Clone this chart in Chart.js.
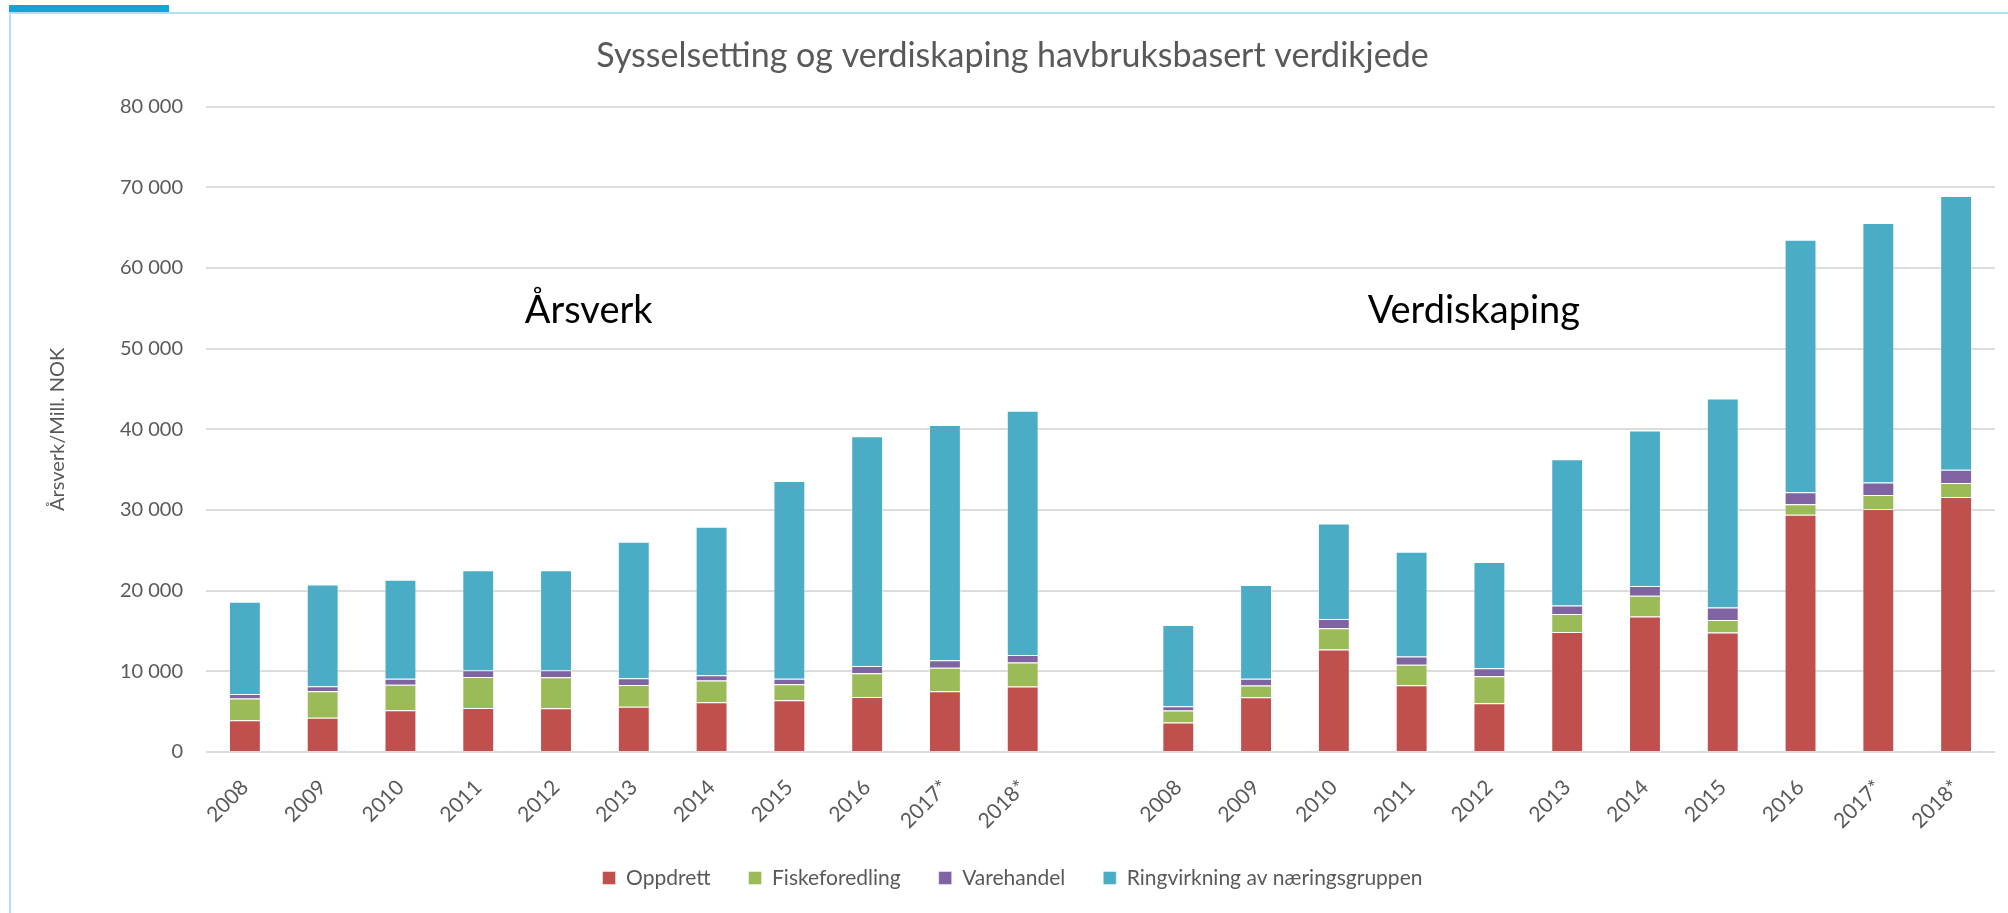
<!DOCTYPE html>
<html>
<head>
<meta charset="utf-8">
<script src="https://cdn.jsdelivr.net/npm/chart.js@4"></script>
<style>
  html, body { margin: 0; padding: 0; background: #fff; }
  #frame { position: absolute; left: 9px; top: 12px; width: 2000px; height: 901px;
           border-left: 2px solid #b7def7; border-top: 2px solid #b7def7; }
  #tab { position: absolute; left: 9px; top: 5px; width: 160px; height: 7px; background: #14a3dc; }
  #canvas { position: absolute; left: 0; top: 0; }
</style>
</head>
<body>
<div id="frame"></div>
<div id="tab"></div>
<canvas id="canvas" width="2008" height="913"></canvas>
<script>
document.addEventListener("DOMContentLoaded", () => {

const ctx = document.getElementById('canvas').getContext('2d');

// years, same for both groups
const years = ['2008', '2009', '2010', '2011', '2012', '2013', '2014', '2015', '2016', '2017*', '2018*']

// Årsverk (left group)
const arsverkOppdrett = [3950, 4240, 5190, 5470, 5430, 5600, 6170, 6420, 6830, 7530, 8110]
const arsverkFiskeforedling = [2680, 3290, 3160, 3830, 3830, 2710, 2680, 1980, 2920, 2920, 3000]
const arsverkVarehandel = [570, 620, 740, 820, 860, 830, 660, 690, 910, 910, 910]
const arsverkRingvirkning = [11440, 12630, 12270, 12400, 12400, 16920, 18410, 24520, 28480, 29180, 30300]

// Verdiskaping, mill. NOK (right group)
const verdiOppdrett = [3660, 6790, 12720, 8270, 6050, 14870, 16800, 14800, 29400, 30140, 31620]
const verdiFiskeforedling = [1480, 1440, 2630, 2550, 3330, 2230, 2580, 1550, 1320, 1730, 1740]
const verdiVarehandel = [540, 860, 1150, 1030, 990, 1050, 1200, 1550, 1480, 1530, 1640]
const verdiRingvirkning = [10070, 11610, 11830, 12970, 13170, 18130, 19280, 25920, 31290, 32190, 33930]

const seriesNames = ['Oppdrett', 'Fiskeforedling', 'Varehandel', 'Ringvirkning av næringsgruppen']
const groupNames = ['Årsverk', 'Verdiskaping']

// one empty category between the two groups
const labels = [...years, '', ...years]
const join = (a, b) => [...a, null, ...b]

const colors = ['#c0504d', '#9bbb59', '#8064a2', '#4bacc6']
const seriesData = [
    join(arsverkOppdrett, verdiOppdrett),
    join(arsverkFiskeforedling, verdiFiskeforedling),
    join(arsverkVarehandel, verdiVarehandel),
    join(arsverkRingvirkning, verdiRingvirkning)
]

const FONT = 'Lato, "Open Sans", sans-serif'
const GREY = '#595959'

// group captions drawn inside the plot
const groupCaptions = {
    id: 'groupCaptions',
    afterDatasetsDraw(chart) {
        const { ctx, scales: { x, y } } = chart
        ctx.save()
        ctx.font = '38px ' + FONT
        ctx.fillStyle = '#000'
        ctx.textAlign = 'center'
        ctx.textBaseline = 'alphabetic'
        ctx.fillText(groupNames[0], x.getPixelForValue(4.42), y.getPixelForValue(53200))
        ctx.fillText(groupNames[1], x.getPixelForValue(15.8), y.getPixelForValue(53200))
        ctx.restore()
    }
}

const myChart = new Chart(ctx, {
    type: 'bar',
    data: {
        labels: labels,
        datasets: seriesData.map((d, i) => ({
            label: seriesNames[i],
            data: d,
            backgroundColor: colors[i],
            borderColor: 'rgba(255,255,255,0.45)',
            borderWidth: 1,
            barPercentage: 0.41,
            categoryPercentage: 1
        }))
    },
    options: {
        responsive: false,
        animation: false,
        layout: { padding: { left: 30, right: 13, top: 0, bottom: 14.5 } },
        plugins: {
            title: {
                display: true,
                text: 'Sysselsetting og verdiskaping havbruksbasert verdikjede',
                color: GREY,
                font: { family: FONT, size: 34, weight: 'normal' },
                padding: { top: 35.6, bottom: 30.3 }
            },
            legend: {
                position: 'bottom',
                labels: {
                    boxWidth: 13,
                    boxHeight: 13,
                    padding: 38,
                    color: GREY,
                    font: { family: FONT, size: 21 }
                }
            },
            tooltip: { enabled: false }
        },
        scales: {
            x: {
                stacked: true,
                grid: { display: false },
                border: { display: false },
                ticks: {
                    color: GREY,
                    font: { family: FONT, size: 21 },
                    minRotation: 45,
                    maxRotation: 45,
                    autoSkip: false,
                    padding: 15
                },
                afterFit: (scale) => { scale.height = 77.5 }
            },
            y: {
                stacked: true,
                min: 0,
                max: 80000,
                border: { display: false },
                grid: { color: '#dcdcdc', lineWidth: 2, drawTicks: false },
                ticks: {
                    stepSize: 10000,
                    color: GREY,
                    font: { family: FONT, size: 20 },
                    padding: 23,
                    callback: (v) => String(v).replace(/\B(?=(\d{3})+(?!\d))/g, ' ')
                },
                title: {
                    display: true,
                    text: 'Årsverk/Mill. NOK',
                    color: GREY,
                    font: { family: FONT, size: 20 },
                    padding: { top: 16, bottom: 0 }
                },
                afterFit: (scale) => { scale.width = 176 }
            }
        }
    },
    plugins: [groupCaptions]
})

})
</script>
</body>
</html>
